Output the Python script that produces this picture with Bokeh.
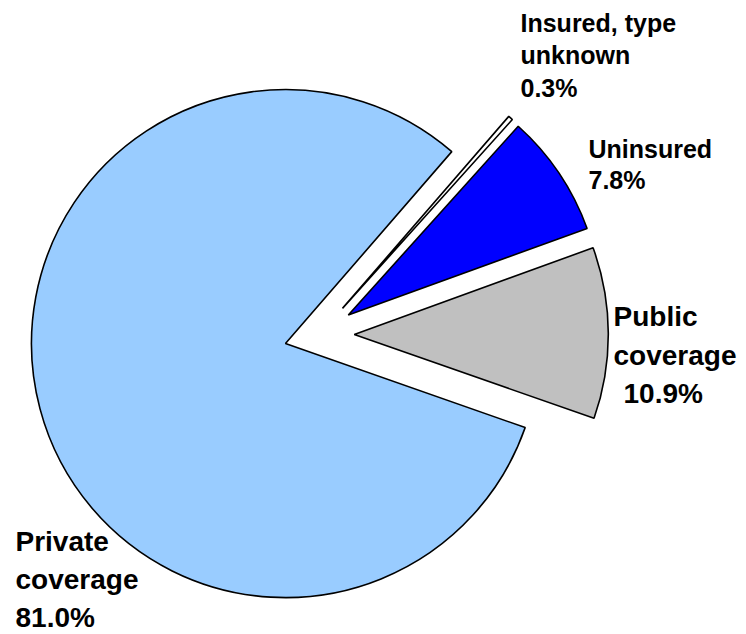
import math
from bokeh.plotting import figure
from bokeh.models import Range1d, ColumnDataSource
from bokeh.core.properties import value
from bokeh.embed import file_html
from bokeh.resources import INLINE

# ---- data (anticlockwise order, starting at the lower edge of "Public") ----
categories = ["Public coverage", "Uninsured", "Insured, type unknown", "Private coverage"]
values = [10.9, 7.8, 0.3, 81.0]
colors = ["#C0C0C0", "#0000FF", "#FFFFFF", "#99CCFF"]
label_names = [["Public", "coverage"], ["Uninsured"], ["Insured, type", "unknown"], ["Private", "coverage"]]

# ---- layout (pixels of the page) ----
W, H = 746, 634
CX, CY = 318.8, 334.1       # pie centre (page px)
R = 254                      # radius px
EXPLODE = 35                 # explode distance px
START_DEG = -19.3
TEXT_SHIFT = -9              # baseline correction for the svg renderer

# label anchors: (left x, first baseline y, line spacing, font size, indent of pct line)
label_layout = [
    (613, 325, 38.5, 28, 10),
    (588, 157, 31.5, 25, 0),
    (520, 31, 32.5, 25, 0),
    (15, 550, 38, 28, 0),
]

def dx(x):
    return x

def dy(y):
    return -y

p = figure(frame_width=W, frame_height=H, output_backend="svg", toolbar_location=None,
           x_range=Range1d(0, W), y_range=Range1d(-H, 0),
           x_axis_type=None, y_axis_type=None, min_border=0)
p.outline_line_color = None
p.xgrid.visible = False
p.ygrid.visible = False
p.background_fill_color = "white"
p.border_fill_color = "white"

total = sum(values)
a = math.radians(START_DEG)
xs, ys, st, en, fc = [], [], [], [], []
for v, c in zip(values, colors):
    sweep = 2 * math.pi * v / total
    mid = a + sweep / 2
    xs.append(dx(CX) + EXPLODE * math.cos(mid))
    ys.append(dy(CY) + EXPLODE * math.sin(mid))
    st.append(a)
    en.append(a + sweep)
    fc.append(c)
    a += sweep

src = ColumnDataSource(dict(x=xs, y=ys, start=st, end=en, color=fc, cat=categories))
p.wedge(x="x", y="y", radius=R, start_angle="start", end_angle="end",
        fill_color="color", line_color="black", line_width=1.6, source=src)

for names, v, (lx, ly, sp, fs, ind) in zip(label_names, values, label_layout):
    lines = names + [f"{v:.1f}%"]
    for i, t in enumerate(lines):
        x = lx + (ind if i == len(lines) - 1 else 0)
        p.text(x=[dx(x)], y=[dy(ly + i * sp + TEXT_SHIFT)], text=[t],
               text_font=value("Liberation Sans"), text_font_style="bold",
               text_font_size=f"{fs}px", text_color="black",
               text_align="left", text_baseline="alphabetic")

open("out.html", "w").write(file_html(p, INLINE))
